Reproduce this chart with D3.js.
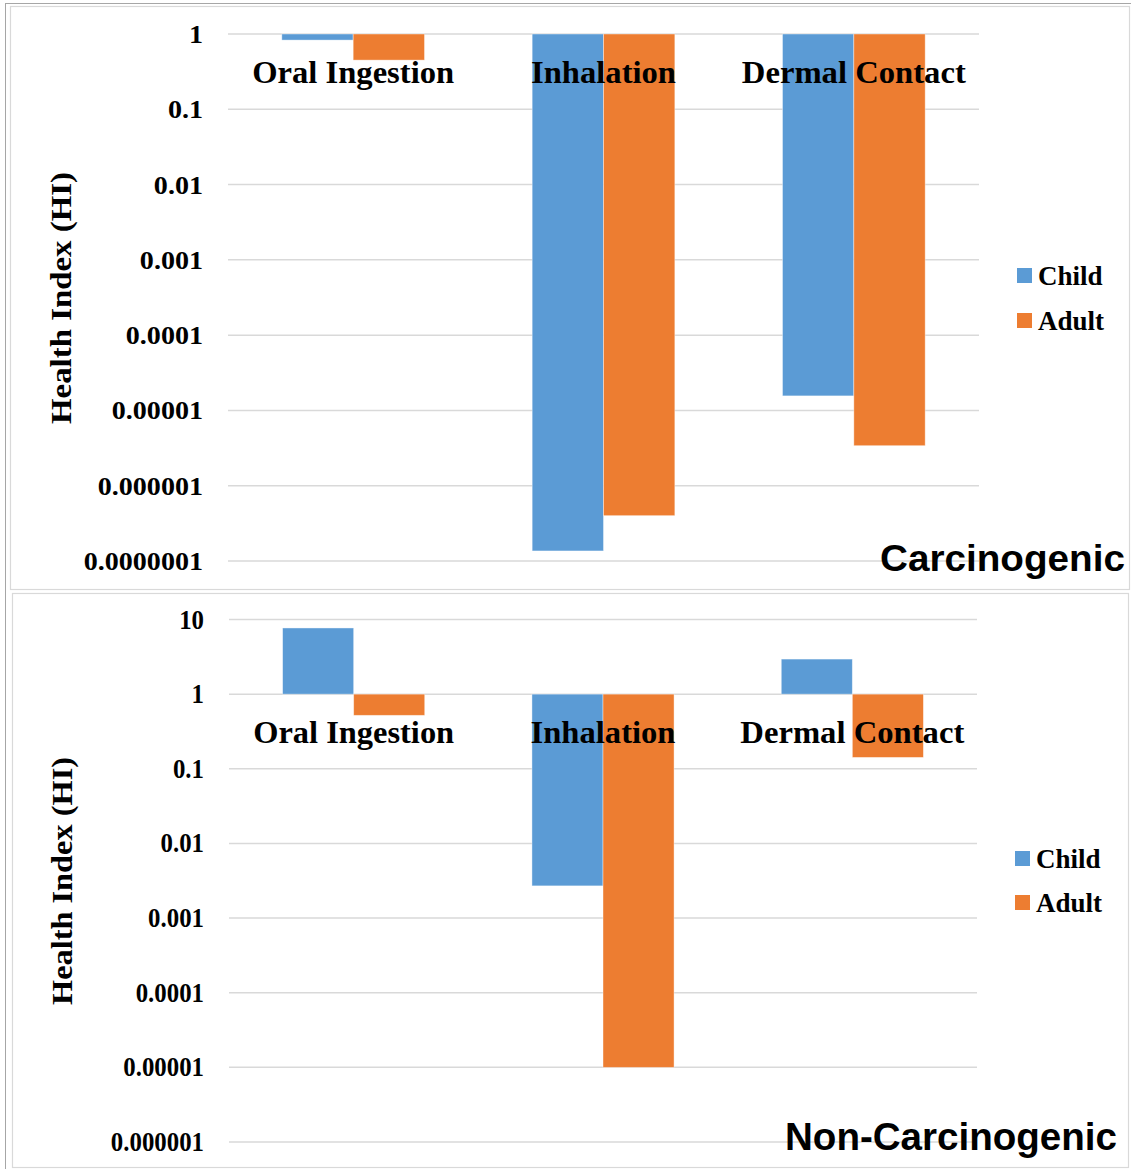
<!DOCTYPE html>
<html>
<head>
<meta charset="utf-8">
<script src="https://cdn.jsdelivr.net/npm/d3@7/dist/d3.min.js"></script>
<style>
  html, body { margin: 0; padding: 0; background: #ffffff; }
  svg { display: block; }
</style>
</head>
<body>
<script>
// Exposure pathways and age groups
const categories = ["Oral Ingestion", "Inhalation", "Dermal Contact"];
const seriesNames = ["Child", "Adult"];
const seriesColors = ["#5b9bd5", "#ed7d31"];

// Carcinogenic risk values per pathway (Child, Adult)
const carcChild = [0.83, 1.36e-7, 1.56e-5];
const carcAdult = [0.45, 4.0e-7, 3.4e-6];
const carcTicks = [1, 0.1, 0.01, 0.001, 0.0001, 0.00001, 0.000001, 0.0000001];
const carcTickLabels = ["1", "0.1", "0.01", "0.001", "0.0001", "0.00001", "0.000001", "0.0000001"];

// Non-carcinogenic hazard values per pathway (Child, Adult)
const nonCarcChild = [7.7, 0.0027, 2.95];
const nonCarcAdult = [0.52, 1.0e-5, 0.142];
const nonCarcTicks = [10, 1, 0.1, 0.01, 0.001, 0.0001, 0.00001, 0.000001];
const nonCarcTickLabels = ["10", "1", "0.1", "0.01", "0.001", "0.0001", "0.00001", "0.000001"];

const W = 1131, H = 1169;
const svg = d3.select("body").append("svg").attr("width", W).attr("height", H);

// outer frame
svg.append("rect").attr("x", 5.5).attr("y", 3.5).attr("width", W).attr("height", H)
  .attr("fill", "none").attr("stroke", "#a6a6a6").attr("stroke-width", 1);

const serif = "'Liberation Serif', 'Times New Roman', serif";
const sans = "'Liberation Sans', Arial, sans-serif";

function drawPanel(cfg) {
  const g = svg.append("g");
  // panel border
  g.append("rect").attr("x", cfg.box[0] + 0.5).attr("y", cfg.box[1] + 0.5)
    .attr("width", cfg.box[2]).attr("height", cfg.box[3])
    .attr("fill", "#ffffff").attr("stroke", "#d9d9d9").attr("stroke-width", 1.2);

  const y = d3.scaleLog().domain(cfg.domain).range(cfg.yRange);
  const x0 = d3.scaleBand().domain(categories).range(cfg.xRange)
    .paddingInner(0.43).paddingOuter(0.215);
  const x1 = d3.scaleBand().domain(seriesNames).range([0, x0.bandwidth()]);

  // gridlines
  g.append("g").selectAll("line").data(cfg.ticks).join("line")
    .attr("x1", cfg.xRange[0]).attr("x2", cfg.xRange[1])
    .attr("y1", d => y(d)).attr("y2", d => y(d))
    .attr("stroke", "#d9d9d9").attr("stroke-width", 1.5);

  // tick labels
  g.append("g").selectAll("text").data(cfg.ticks).join("text")
    .attr("transform", d => `translate(${cfg.tickX},${y(d) + cfg.tickDy}) scale(${cfg.tickSx},1)`)
    .attr("text-anchor", "end")
    .attr("font-family", serif).attr("font-weight", "bold")
    .attr("font-size", cfg.tickFs).attr("fill", "#000")
    .text((d, i) => cfg.tickLabels[i]);

  // bars, hanging from 1 on the log axis
  const rows = categories.map((c, i) => ({
    cat: c,
    vals: [ { s: "Child", v: cfg.child[i], k: 0 }, { s: "Adult", v: cfg.adult[i], k: 1 } ]
  }));
  const base = y(1);
  g.append("g").selectAll("g").data(rows).join("g")
    .attr("transform", d => `translate(${x0(d.cat)},0)`)
    .selectAll("rect").data(d => d.vals).join("rect")
    .attr("x", d => x1(d.s))
    .attr("width", x1.bandwidth())
    .attr("y", d => Math.min(base, y(d.v)))
    .attr("height", d => Math.abs(y(d.v) - base))
    .attr("fill", d => seriesColors[d.k])
    .attr("stroke", "#ffffff").attr("stroke-opacity", 0.5).attr("stroke-width", 0.8);

  // category labels, drawn over the bars
  g.append("g").selectAll("text").data(categories).join("text")
    .attr("x", d => x0(d) + x0.bandwidth() / 2)
    .attr("y", cfg.catY)
    .attr("text-anchor", "middle")
    .attr("font-family", serif).attr("font-weight", "bold")
    .attr("font-size", 31).attr("fill", "#000")
    .attr("textLength", (d, i) => cfg.catWidths[i])
    .attr("lengthAdjust", "spacingAndGlyphs")
    .text(d => d);

  // axis title
  g.append("text")
    .attr("transform", `translate(${cfg.titleX},${cfg.titleY}) rotate(-90)`)
    .attr("text-anchor", "middle")
    .attr("font-family", serif).attr("font-weight", "bold")
    .attr("font-size", 29).attr("fill", "#000")
    .attr("textLength", cfg.titleLen).attr("lengthAdjust", "spacingAndGlyphs")
    .text("Health Index (HI)");

  // legend
  const lg = g.append("g").selectAll("g").data(seriesNames).join("g")
    .attr("transform", (d, i) => `translate(${cfg.legX},${cfg.legY + i * cfg.legStep})`);
  lg.append("rect").attr("x", 0).attr("y", -17).attr("width", 15).attr("height", 15)
    .attr("fill", (d, i) => seriesColors[i]);
  lg.append("text").attr("x", 21).attr("y", 0)
    .attr("font-family", serif).attr("font-weight", "bold")
    .attr("font-size", 27).attr("fill", "#000")
    .text(d => d);

  // panel label
  g.append("text")
    .attr("x", cfg.labelX).attr("y", cfg.labelY)
    .attr("text-anchor", "end")
    .attr("font-family", sans).attr("font-weight", "bold")
    .attr("font-size", cfg.labelFs).attr("fill", "#000")
    .attr("textLength", cfg.labelLen).attr("lengthAdjust", "spacingAndGlyphs")
    .text(cfg.label);
}

drawPanel({
  box: [10, 6, 1119, 583],
  domain: [1e-7, 1], yRange: [561, 34], xRange: [228, 979],
  ticks: carcTicks, tickLabels: carcTickLabels,
  tickX: 203, tickDy: 9, tickFs: 26, tickSx: 1.08,
  child: carcChild, adult: carcAdult,
  catY: 83, catWidths: [202, 145, 224],
  titleX: 71, titleY: 298, titleLen: 252,
  legX: 1017, legY: 285, legStep: 45,
  label: "Carcinogenic", labelX: 1125, labelY: 571, labelFs: 36, labelLen: 245
});

drawPanel({
  box: [12, 593, 1116, 574],
  domain: [1e-6, 10], yRange: [1142, 619.5], xRange: [229, 977],
  ticks: nonCarcTicks, tickLabels: nonCarcTickLabels,
  tickX: 204, tickDy: 9, tickFs: 27, tickSx: 0.92,
  child: nonCarcChild, adult: nonCarcAdult,
  catY: 743, catWidths: [201, 145, 224],
  titleX: 72, titleY: 881, titleLen: 248,
  legX: 1015, legY: 868, legStep: 44,
  label: "Non-Carcinogenic", labelX: 1117, labelY: 1150, labelFs: 38, labelLen: 332
});
</script>
</body>
</html>
